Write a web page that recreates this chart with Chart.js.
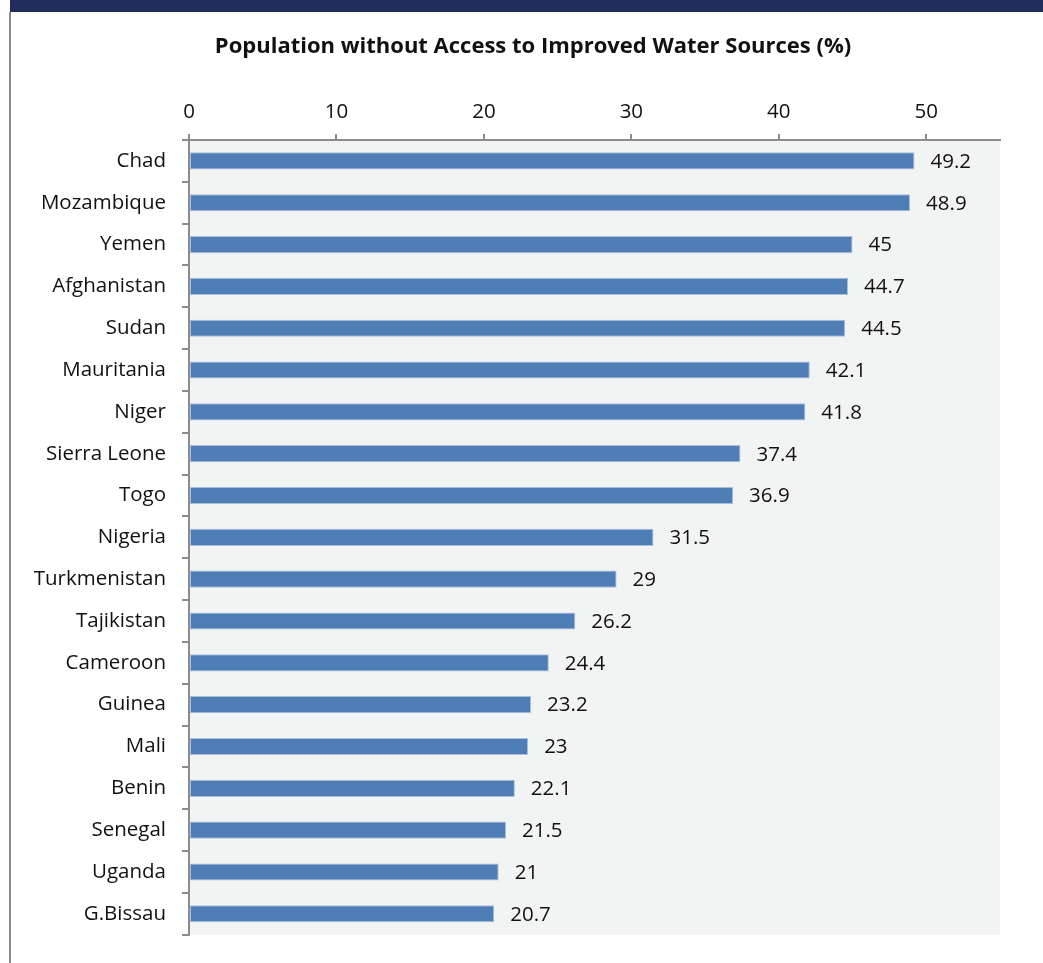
<!DOCTYPE html>
<html>
<head>
<meta charset="utf-8">
<script src="https://cdn.jsdelivr.net/npm/chart.js@4/dist/chart.umd.min.js"></script>
<style>
    html, body { margin: 0; padding: 0; background: #fff; }
    #wrap { width: 1043px; height: 963px; position: relative; }
</style>
</head>
<body>
<div id="wrap"><canvas id="waterChart"></canvas></div>
<script>
const countries = ["Chad", "Mozambique", "Yemen", "Afghanistan", "Sudan", "Mauritania", "Niger",
    "Sierra Leone", "Togo", "Nigeria", "Turkmenistan", "Tajikistan", "Cameroon", "Guinea",
    "Mali", "Benin", "Senegal", "Uganda", "G.Bissau"];
const noAccess = [49.2, 48.9, 45, 44.7, 44.5, 42.1, 41.8, 37.4, 36.9, 31.5, 29, 26.2, 24.4,
    23.2, 23, 22.1, 21.5, 21, 20.7];
const axisTicks = [0, 10, 20, 30, 40, 50];
const chartTitle = "Population without Access to Improved Water Sources (%)";

const FONT = "'Open Sans', 'Noto Sans', sans-serif";
const AXIS_GREY = "#8c8c8c";

// navy strip across the top, grey frame on the left, shaded plot area, title
const frame = {
    id: "frame",
    beforeDraw(chart) {
        const { ctx, chartArea: a } = chart;
        ctx.save();
        ctx.fillStyle = "#202d5d";
        ctx.fillRect(10, 0, chart.width - 10, 12);
        ctx.fillStyle = AXIS_GREY;
        ctx.fillRect(9, 12, 2, chart.height - 12);
        ctx.fillStyle = "#f2f3f3";
        ctx.fillRect(a.left, a.top, a.right - a.left, a.bottom - a.top);

        ctx.font = "bold 22px " + FONT;
        ctx.fillStyle = "#111";
        ctx.textAlign = "center";
        ctx.textBaseline = "middle";
        ctx.fillText(chartTitle, 533, 47);
        ctx.restore();
    }
};

// value printed just past the end of each bar
const barValues = {
    id: "barValues",
    afterDatasetsDraw(chart) {
        const { ctx } = chart;
        const meta = chart.getDatasetMeta(0);
        ctx.save();
        ctx.font = "20.5px " + FONT;
        ctx.fillStyle = "#111";
        ctx.textAlign = "left";
        ctx.textBaseline = "middle";
        meta.data.forEach((bar, i) => {
            ctx.fillText(String(noAccess[i]), bar.x + 16, bar.y + 1);
        });
        ctx.restore();
    }
};

new Chart(document.getElementById("waterChart"), {
    type: "bar",
    data: {
        labels: countries,
        datasets: [{
            label: "Population without access (%)",
            data: noAccess,
            backgroundColor: "#4f7db6",
            borderColor: "#a9c0dd",
            borderWidth: 1,
            borderSkipped: false,
            barPercentage: 0.41,
            categoryPercentage: 1,
        }],
    },
    options: {
        indexAxis: "y",
        responsive: true,
        maintainAspectRatio: false,
        animation: false,
        layout: {
            padding: { top: 59, left: 0, right: 43, bottom: 27 },
        },
        plugins: {
            legend: { display: false },
            tooltip: { enabled: false },
            title: { display: false },
        },
        scales: {
            x: {
                position: "top",
                min: 0,
                max: 55,
                afterBuildTicks(scale) {
                    scale.ticks = axisTicks.map((v) => ({ value: v }));
                },
                afterFit(scale) {
                    scale.height = 81;
                },
                border: { display: true, color: AXIS_GREY, width: 2 },
                grid: {
                    drawOnChartArea: false,
                    drawTicks: true,
                    tickLength: 6,
                    color: AXIS_GREY,
                    lineWidth: 2,
                },
                ticks: {
                    color: "#111",
                    padding: 10,
                    maxRotation: 0,
                    font: { family: FONT, size: 20.5 },
                },
            },
            y: {
                afterFit(scale) {
                    scale.width = 189;
                },
                border: { display: true, color: AXIS_GREY, width: 2 },
                grid: {
                    offset: true,
                    drawOnChartArea: false,
                    drawTicks: true,
                    tickLength: 7,
                    color: AXIS_GREY,
                    lineWidth: 2,
                },
                ticks: {
                    color: "#111",
                    padding: 16,
                    font: { family: FONT, size: 20.5 },
                },
            },
        },
    },
    plugins: [frame, barValues],
});
</script>
</body>
</html>
